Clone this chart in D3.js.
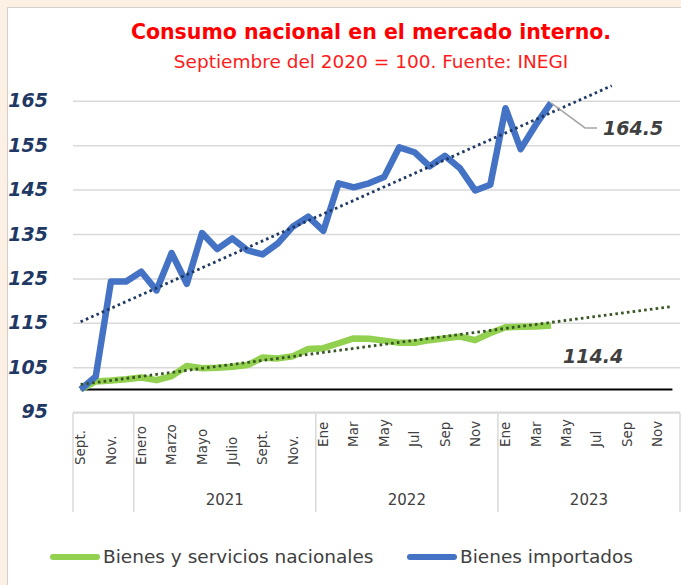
<!DOCTYPE html>
<html>
<head>
<meta charset="utf-8">
<script src="https://cdn.jsdelivr.net/npm/d3@7"></script>
<style>
	html, body { margin: 0; padding: 0; background: #fcf0e4; }
	svg { display: block; }
	text { font-family: "DejaVu Sans", sans-serif; }
</style>
</head>
<body>
<div id="chart"></div>
<script>
// categories: Sept 2020 .. Dic 2023
const months = [
	"Sept.", "Oct.", "Nov.", "Dic.",
	"Enero", "Febrero", "Marzo", "Abril", "Mayo", "Junio", "Julio", "Agosto", "Sept.", "Oct.", "Nov.", "Dic.",
	"Ene", "Feb", "Mar", "Abr", "May", "Jun", "Jul", "Ago", "Sep", "Oct", "Nov", "Dic",
	"Ene", "Feb", "Mar", "Abr", "May", "Jun", "Jul", "Ago", "Sep", "Oct", "Nov", "Dic",
];
const yearLabels = ["", "2021", "2022", "2023"];
const yearLengths = [4, 12, 12, 12];
const yTicks = [95, 105, 115, 125, 135, 145, 155, 165];

const importados = [
	100, 102.9, 124.3, 124.3, 126.5, 122.3, 130.7, 123.8, 135.2, 131.6, 134.0, 131.3,
	130.4, 132.9, 136.7, 138.9, 135.7, 146.4, 145.5, 146.4, 147.8, 154.5, 153.4, 150.2,
	152.6, 149.8, 144.8, 146.1, 163.3, 154.1, 159.6, 164.5,
];
const nacionales = [
	100, 101.8, 102.0, 102.3, 102.7, 102.1, 103.0, 105.3, 104.8, 104.9, 105.1, 105.5,
	107.2, 107.0, 107.5, 109.1, 109.3, 110.4, 111.5, 111.4, 111.0, 110.5, 110.5, 111.1,
	111.5, 111.9, 111.1, 112.7, 114.0, 114.1, 114.2, 114.4,
];
const baseValue = 100;
const seriesNames = ["Bienes y servicios nacionales", "Bienes importados"];

const width = 681, height = 585;
const plotLeft = 73, plotRight = 680, plotTop = 100.7, plotBottom = 411.7;

const svg = d3.select("#chart").append("svg").attr("width", width).attr("height", height);
svg.append("rect").attr("x", 7.5).attr("y", 7.5).attr("width", width).attr("height", height)
	.attr("fill", "#fff").attr("stroke", "#d6d0ca");

const x = d3.scaleBand().domain(d3.range(months.length)).range([plotLeft, plotRight]);
const cx = (i) => x(i) + x.bandwidth() / 2;
const y = d3.scaleLinear().domain([95, 165]).range([plotBottom, plotTop]);

// title
svg.append("text").attr("x", 371).attr("y", 39).attr("text-anchor", "middle")
	.attr("fill", "#ff0000").attr("font-weight", "bold").attr("font-size", "20.5px")
	.text("Consumo nacional en el mercado interno.");
svg.append("text").attr("x", 371).attr("y", 68).attr("text-anchor", "middle")
	.attr("fill", "#ff1a1a").attr("font-size", "18.5px")
	.text("Septiembre del 2020 = 100. Fuente: INEGI");

// gridlines
const grid = svg.append("g").attr("transform", `translate(${plotLeft},0)`)
	.call(d3.axisLeft(y).tickValues(yTicks).tickSize(-(plotRight - plotLeft)).tickFormat(""));
grid.select(".domain").remove();
grid.selectAll("line").attr("stroke", "#d9d9d9").attr("stroke-width", 1.5);

// y labels
const yAxis = svg.append("g").attr("transform", "translate(48,0)")
	.call(d3.axisLeft(y).tickValues(yTicks).tickSize(0).tickPadding(0));
yAxis.select(".domain").remove();
yAxis.selectAll("text")
	.attr("fill", "#1f3864").attr("font-size", "19px").attr("font-weight", "bold")
	.attr("font-style", "italic").style("font-family", "'DejaVu Sans', sans-serif");

// category axis (multi-level)
const axisG = svg.append("g");
axisG.append("line").attr("x1", plotLeft).attr("x2", plotRight).attr("y1", 413).attr("y2", 413)
	.attr("stroke", "#d9d9d9").attr("stroke-width", 1.5);
let starts = [0];
yearLengths.forEach((n, k) => starts.push(starts[k] + n));
starts.forEach((s) => {
	const xx = s < months.length ? x(s) : plotRight;
	axisG.append("line").attr("x1", xx).attr("x2", xx).attr("y1", 413).attr("y2", 512)
		.attr("stroke", "#d9d9d9").attr("stroke-width", 1.5);
});
months.forEach((m, i) => {
	if (i % 2 !== 0) return;
	const by = i < 16 ? 465 : 447;
	axisG.append("text")
		.attr("transform", `translate(${cx(i)},${by}) rotate(-90)`)
		.attr("dy", "0.35em").attr("text-anchor", "start")
		.attr("fill", "#404040").attr("font-size", "13.5px").text(m);
});
yearLabels.forEach((lab, k) => {
	if (!lab) return;
	const x0 = x(starts[k]);
	const x1 = starts[k + 1] < months.length ? x(starts[k + 1]) : plotRight;
	axisG.append("text").attr("x", (x0 + x1) / 2).attr("y", 500).attr("dy", "0.35em")
		.attr("text-anchor", "middle").attr("fill", "#404040").attr("font-size", "15px").text(lab);
});

// base line at 100
svg.append("line").attr("x1", cx(0)).attr("x2", cx(months.length - 1))
	.attr("y1", y(baseValue)).attr("y2", y(baseValue))
	.attr("stroke", "#000").attr("stroke-width", 2);

const line = d3.line().x((d, i) => cx(i)).y((d) => y(d));

svg.append("path").datum(nacionales).attr("d", line).attr("fill", "none")
	.attr("stroke", "#92d050").attr("stroke-width", 6.5).attr("stroke-linejoin", "round");
svg.append("path").datum(importados).attr("d", line).attr("fill", "none")
	.attr("stroke", "#4472c4").attr("stroke-width", 6.5).attr("stroke-linejoin", "round");

// linear trend lines (least squares) with forward forecast
function trend(values, endIndex) {
	const mx = d3.mean(values, (d, i) => i);
	const my = d3.mean(values);
	let sxy = 0, sxx = 0;
	values.forEach((v, i) => { sxy += (i - mx) * (v - my); sxx += (i - mx) * (i - mx); });
	const b = sxy / sxx, a = my - b * mx;
	return [[0, a], [endIndex, a + b * endIndex]];
}
const trendLine = d3.line().x((d) => cx(0) + d[0] * x.step()).y((d) => y(d[1]));
svg.append("path").datum(trend(nacionales, 39)).attr("d", trendLine)
	.attr("stroke", "#375623").attr("stroke-width", 2.8).attr("stroke-dasharray", "2.6,3.2");
svg.append("path").datum(trend(importados, 35)).attr("d", trendLine)
	.attr("stroke", "#1f3864").attr("stroke-width", 2.8).attr("stroke-dasharray", "2.6,3.2");

// end labels
const lastI = importados.length - 1;
const bx = cx(lastI), byy = y(importados[lastI]);
svg.append("path").attr("d", `M${bx},${byy}L${bx + 34},${byy + 25}L${bx + 46},${byy + 25}`)
	.attr("fill", "none").attr("stroke", "#a6a6a6").attr("stroke-width", 1.5);
svg.append("text").attr("x", bx + 52).attr("y", byy + 32).attr("fill", "#404040")
	.attr("font-size", "19px").attr("font-weight", "bold").attr("font-style", "italic")
	.text(importados[lastI].toFixed(1));
const gx = cx(nacionales.length - 1), gy = y(nacionales[nacionales.length - 1]);
svg.append("text").attr("x", gx + 12).attr("y", gy + 37).attr("fill", "#404040")
	.attr("font-size", "19px").attr("font-weight", "bold").attr("font-style", "italic")
	.text(nacionales[nacionales.length - 1].toFixed(1));

// legend
const legend = [
	{ name: seriesNames[0], color: "#92d050", x: 50 },
	{ name: seriesNames[1], color: "#4472c4", x: 407 },
];
legend.forEach((l) => {
	svg.append("line").attr("x1", l.x + 3).attr("x2", l.x + 47).attr("y1", 557).attr("y2", 557)
		.attr("stroke", l.color).attr("stroke-width", 6).attr("stroke-linecap", "round");
	svg.append("text").attr("x", l.x + 53).attr("y", 557).attr("dy", "0.35em")
		.attr("fill", "#404040").attr("font-size", "18.5px").text(l.name);
});
</script>
</body>
</html>
